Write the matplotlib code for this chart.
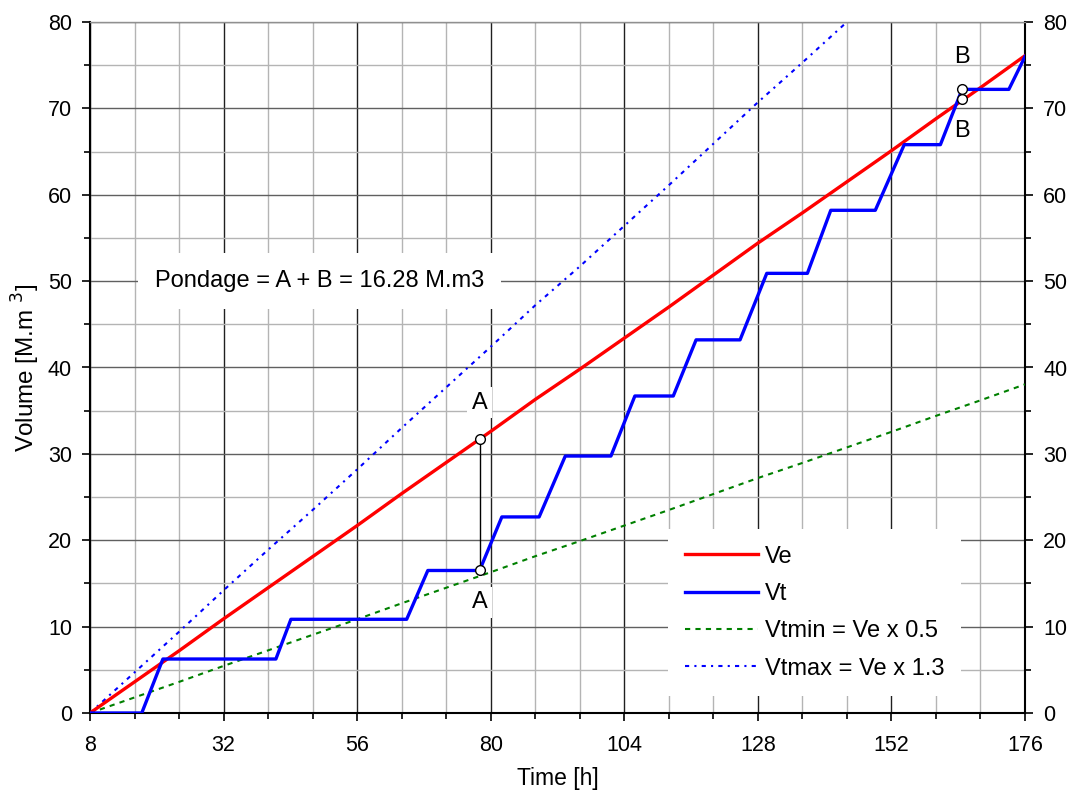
import numpy as np
import matplotlib
matplotlib.use("Agg")
import matplotlib.pyplot as plt
from matplotlib.ticker import MultipleLocator

plt.rcParams['font.family'] = ['Liberation Sans', 'DejaVu Sans']

# Ve : required volume, sampled every 8 h
ve_t = [8, 16, 24, 32, 40, 48, 56, 64, 72, 80, 88, 96, 104, 112, 120,
        128, 136, 144, 152, 160, 168, 176]
ve = [0, 3.6, 7.2, 10.9, 14.5, 18.1, 21.7, 25.4, 29.0, 32.6, 36.3, 39.8,
      43.4, 47.0, 50.7, 54.4, 57.9, 61.5, 65.1, 68.8, 72.4, 76.1]

# Vtmin = Ve x 0.5 , Vtmax = Ve x 1.3
vtmin = [0, 1.8, 3.6, 5.45, 7.25, 9.05, 10.85, 12.7, 14.5, 16.3, 18.15, 19.9,
         21.7, 23.5, 25.35, 27.2, 28.95, 30.75, 32.55, 34.4, 36.2, 38.05]
vtmax_t = ve_t[:19]
vtmax = [0, 4.7, 9.4, 14.2, 18.9, 23.5, 28.2, 33.0, 37.7, 42.4, 47.2, 51.7,
         56.4, 61.1, 65.9, 70.7, 75.3, 80.0, 84.6]

# Vt : turbined volume (stepped)
vt_t = [8, 17.3, 21.1, 41.4, 44.1, 64.9, 68.7, 78, 82, 88.7, 93.4, 101.6,
        105.9, 112.8, 116.9, 124.8, 129.6, 136.9, 141.1, 149.1, 154.3, 160.8,
        164.7, 173.1, 176]
vt = [0, 0, 6.25, 6.25, 10.85, 10.85, 16.5, 16.5, 22.7, 22.7, 29.75, 29.75,
      36.7, 36.7, 43.2, 43.2, 50.9, 50.9, 58.2, 58.2, 65.8, 65.8, 72.2, 72.2,
      76.0]

# pondage points
a_t, a_low, a_high = 78, 16.5, 31.75
b_t, b_low, b_high = 164.7, 71.1, 72.2

x_ticks = [8, 32, 56, 80, 104, 128, 152, 176]

fig = plt.figure(figsize=(10.73, 7.97), dpi=100)
ax = fig.add_axes([90 / 1073, 1 - 713 / 797, 935 / 1073, 691 / 797])

ax.set_xlim(8, 176)
ax.set_ylim(0, 80)
ax.set_xticks(x_ticks)
ax.xaxis.set_minor_locator(MultipleLocator(8))
ax.yaxis.set_major_locator(MultipleLocator(10))
ax.yaxis.set_minor_locator(MultipleLocator(5))

# grid: dark on major, grey on minor
ax.grid(True, which='minor', axis='both', color='#b4b4b4', lw=1.0, zorder=0)
ax.grid(True, which='major', axis='y', color='#606060', lw=1.0, zorder=0)
ax.grid(True, which='major', axis='x', color='#202020', lw=1.0, zorder=0)
ax.set_axisbelow(True)

ax.plot(ve_t, vtmin, color='#008000', lw=1.5, ls=(0, (2.5, 2.5)),
        label='Vtmin = Ve x 0.5', zorder=3)
ax.plot(vtmax_t, vtmax, color='#0000ff', lw=1.5, ls=(0, (2, 2.5, 1, 2.5)),
        label='Vtmax = Ve x 1.3', zorder=3)
ax.plot(ve_t, ve, color='#ff0000', lw=2.4, label='Ve', zorder=4)
ax.plot(vt_t, vt, color='#0000ff', lw=2.4, label='Vt', zorder=4)

# pondage markers
ax.plot([a_t, a_t], [a_low, a_high], color='black', lw=1.0, zorder=5)
ax.plot([a_t, a_t], [a_low, a_high], ls='none', marker='o', ms=7,
        mfc='white', mec='black', mew=1.0, zorder=6)
ax.plot([b_t, b_t], [b_low, b_high], ls='none', marker='o', ms=7,
        mfc='white', mec='black', mew=1.0, zorder=6)

lbl_box = dict(facecolor='white', edgecolor='none', pad=3)
ax.annotate('A', (a_t, a_high), xytext=(0, 26), textcoords='offset points',
            ha='center', va='center', fontsize=17, bbox=lbl_box, zorder=7)
ax.annotate('A', (a_t, a_low), xytext=(0, -23), textcoords='offset points',
            ha='center', va='center', fontsize=17, bbox=lbl_box, zorder=7)
ax.annotate('B', (b_t, b_high), xytext=(0, 23), textcoords='offset points',
            ha='center', va='center', fontsize=17, zorder=7)
ax.annotate('B', (b_t, b_low), xytext=(0, -23), textcoords='offset points',
            ha='center', va='center', fontsize=17, zorder=7)

ax.text(49.3, 50, 'Pondage = A + B = 16.28 M.m3', ha='center', va='center',
        fontsize=17, zorder=7,
        bbox=dict(facecolor='white', edgecolor='none', pad=12))

ax.tick_params(which='both', direction='out', right=True, labelright=True,
               labelsize=15.5, width=1.2, colors='black')
ax.tick_params(axis='x', which='both', pad=10)
ax.tick_params(axis='y', which='both', pad=7)
ax.tick_params(which='major', length=6)
ax.tick_params(which='minor', length=4)

for side in ['left', 'right', 'bottom']:
    ax.spines[side].set_linewidth(1.5)
    ax.spines[side].set_color('black')
ax.spines['top'].set_color('#909090')
ax.spines['top'].set_linewidth(1.0)

ax.set_xlabel('Time [h]', fontsize=16.5, labelpad=8)
ax.set_ylabel('Volume [M.m $^{3}$]', fontsize=17.5, labelpad=4)

handles, labels = ax.get_legend_handles_labels()
order = [2, 3, 0, 1]
leg = ax.legend([handles[i] for i in order], [labels[i] for i in order],
                loc='upper left', bbox_to_anchor=(668 / 1073, 1 - 529 / 797),
                bbox_transform=fig.transFigure, borderaxespad=0,
                fontsize=17, handlelength=3.1, handletextpad=0.3,
                labelspacing=0.65, borderpad=0.7, frameon=True,
                fancybox=False, framealpha=1, edgecolor='none',
                facecolor='white')
leg.set_zorder(8)

fig.savefig('out.png', dpi=100)
